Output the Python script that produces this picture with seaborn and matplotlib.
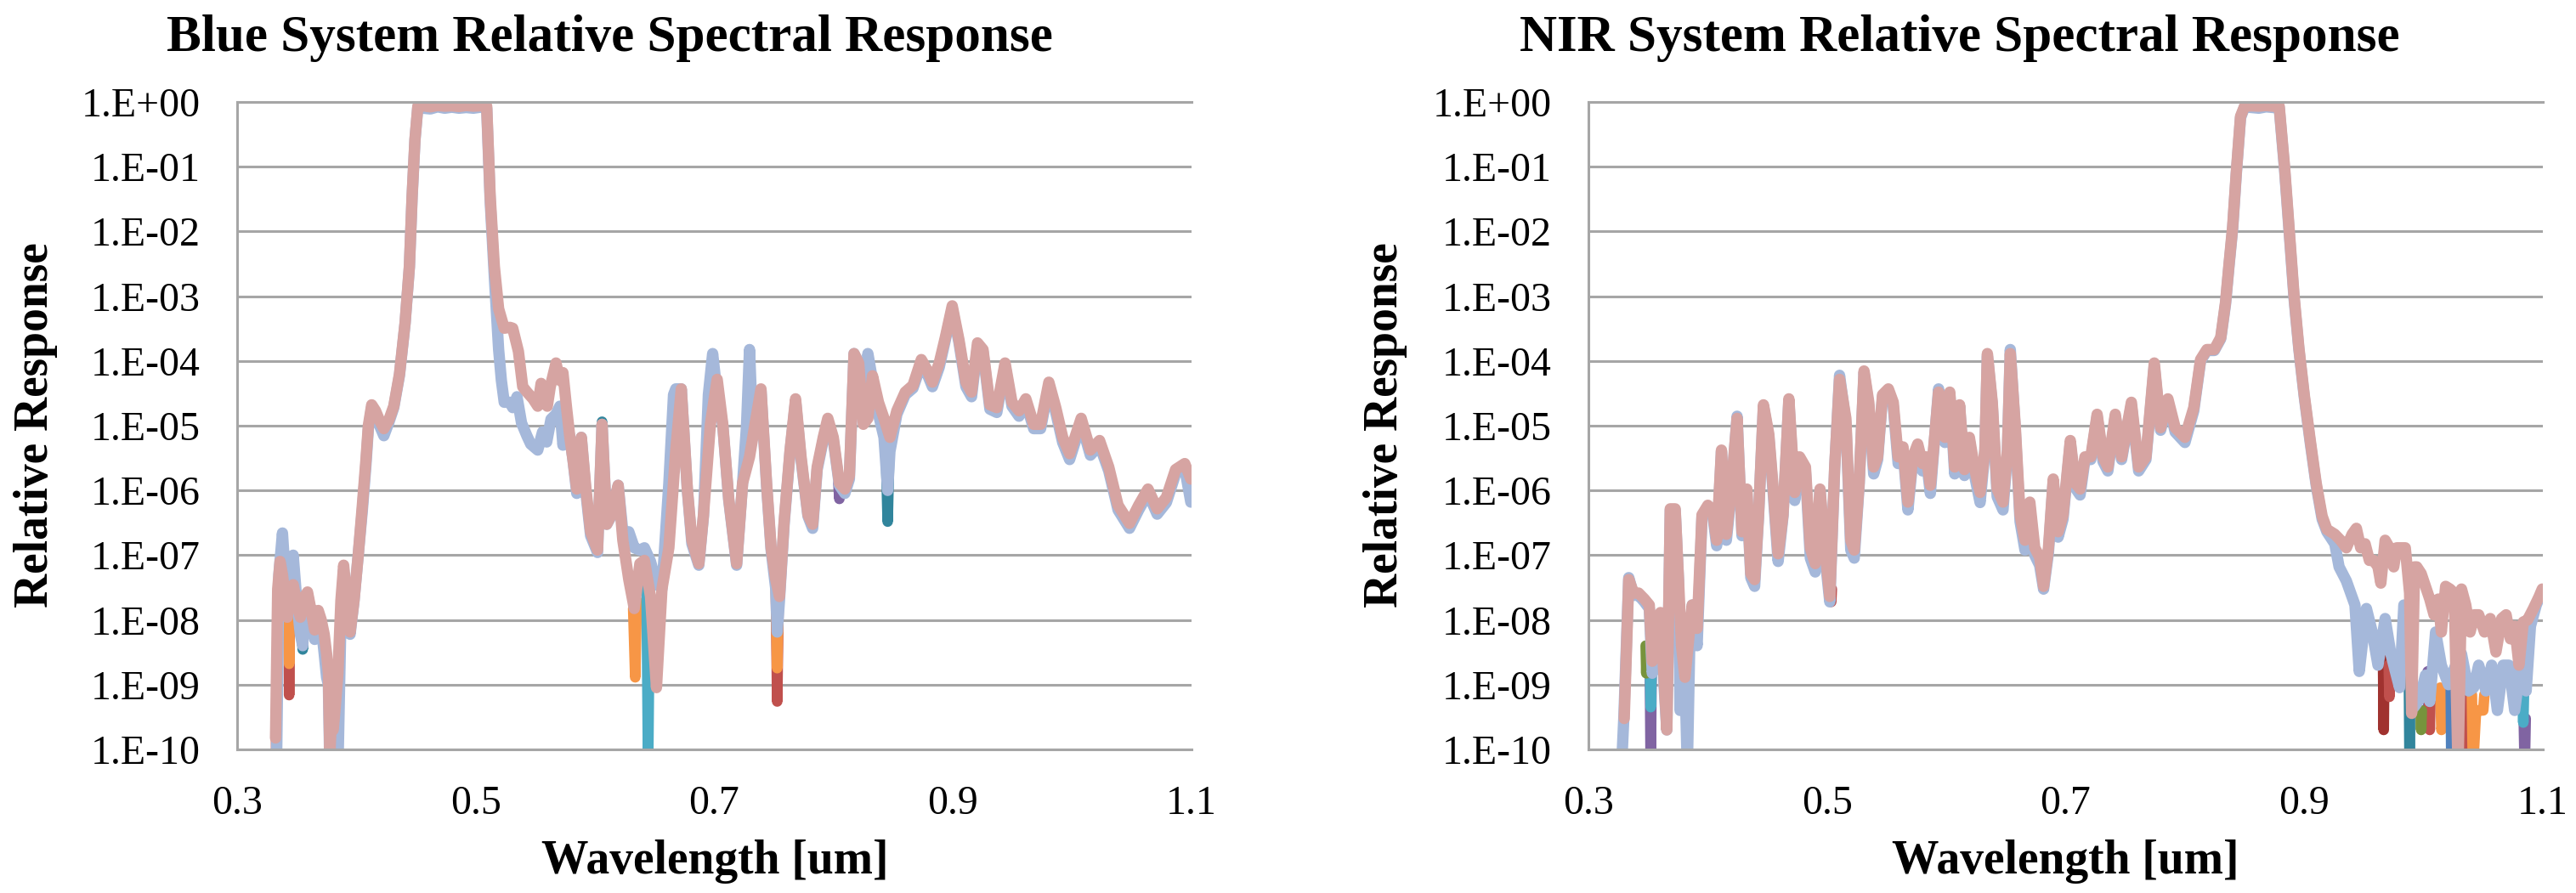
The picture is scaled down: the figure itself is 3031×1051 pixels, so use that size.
import numpy as np
import pandas as pd
import matplotlib
matplotlib.use("Agg")
import matplotlib.pyplot as plt
from matplotlib.ticker import NullLocator, FixedLocator, FixedFormatter
import seaborn as sns

sns.set_theme(style="white")
plt.rcParams['font.family'] = ['Liberation Serif', 'DejaVu Serif']

# ---------------- data ----------------
ytick_vals = [1e0, 1e-1, 1e-2, 1e-3, 1e-4, 1e-5, 1e-6, 1e-7, 1e-8, 1e-9, 1e-10]
ytick_labels = ["1.E+00", "1.E-01", "1.E-02", "1.E-03", "1.E-04", "1.E-05",
                "1.E-06", "1.E-07", "1.E-08", "1.E-09", "1.E-10"]
xtick_vals = [0.3, 0.5, 0.7, 0.9, 1.1]
xtick_labels = ["0.3", "0.5", "0.7", "0.9", "1.1"]

# Blue system - top (pink) series
blue_pink_wl = [0.3322, 0.3340, 0.3360, 0.3380, 0.3400, 0.3420, 0.3440, 0.3470, 0.3500, 0.3530,
                0.3560, 0.3590, 0.3620, 0.3650, 0.3680, 0.3705, 0.3730, 0.3750, 0.3765, 0.3777,
                0.3790, 0.3805, 0.3820, 0.3845, 0.3870, 0.3893, 0.3915, 0.3947, 0.3980, 0.4015,
                0.4050, 0.4080, 0.4100, 0.4128, 0.4160, 0.4194, 0.4230, 0.4270, 0.4313, 0.4361,
                0.4408, 0.4444, 0.4467, 0.4491, 0.4515, 0.4560, 0.4620, 0.4680, 0.4740, 0.4800,
                0.4860, 0.4920, 0.4980, 0.5040, 0.5092, 0.5121, 0.5156, 0.5192, 0.5239, 0.5287,
                0.5310, 0.5358, 0.5394, 0.5430, 0.5480, 0.5520, 0.5548, 0.5577, 0.5600, 0.5625,
                0.5673, 0.5705, 0.5731, 0.5760, 0.5789, 0.5815, 0.5847, 0.5885, 0.5924, 0.5963,
                0.6021, 0.6059, 0.6098, 0.6136, 0.6194, 0.6233, 0.6283, 0.6329, 0.6376, 0.6414,
                0.6465, 0.6515, 0.6561, 0.6619, 0.6677, 0.6723, 0.6774, 0.6812, 0.6870, 0.6909,
                0.6967, 0.7024, 0.7071, 0.7121, 0.7187, 0.7237, 0.7295, 0.7341, 0.7391, 0.7438,
                0.7476, 0.7515, 0.7546, 0.7585, 0.7635, 0.7681, 0.7727, 0.7785, 0.7824, 0.7862,
                0.7913, 0.7951, 0.7997, 0.8048, 0.8094, 0.8132, 0.8171, 0.8210, 0.8249, 0.8287,
                0.8326, 0.8376, 0.8422, 0.8472, 0.8530, 0.8600, 0.8665, 0.8735, 0.8781, 0.8828,
                0.8885, 0.8936, 0.8994, 0.9051, 0.9109, 0.9156, 0.9206, 0.9252, 0.9310, 0.9368,
                0.9437, 0.9495, 0.9554, 0.9611, 0.9677, 0.9735, 0.9804, 0.9862, 0.9920, 0.9978,
                1.0075, 1.0152, 1.0229, 1.0306, 1.0384, 1.0480, 1.0557, 1.0635, 1.0712, 1.0789,
                1.0866, 1.0943, 1.0994]
blue_pink_resp = [1.5e-10, 3e-8, 8e-8, 5e-8, 2.5e-8, 1.1e-8, 2e-8, 3.5e-8, 1.8e-8, 1.1e-8,
                  2.2e-8, 2.7e-8, 1.4e-8, 7e-9, 1.4e-8, 1e-8, 6e-9, 3e-9, 1.5e-9, 8e-11,
                  3e-10, 2e-10, 4e-10, 1.5e-9, 2e-8, 7e-8, 2.5e-8, 6.5e-9, 2e-8, 1e-7,
                  6e-7, 3e-6, 1e-5, 2.1e-5, 1.7e-5, 1.2e-5, 9e-6, 1.2e-5, 2e-5, 6.3e-5,
                  3.9e-4, 2.9e-3, 3.6e-2, 0.27, 0.86, 0.87, 0.84, 0.88, 0.86, 0.87,
                  0.85, 0.88, 0.86, 0.87, 0.86, 3.6e-2, 2.9e-3, 6.4e-4, 3.2e-4, 3.3e-4,
                  3.2e-4, 1.4e-4, 4e-5, 3.3e-5, 2.6e-5, 2e-5, 4.5e-5, 3.3e-5, 2e-5, 4e-5,
                  9.3e-5, 5e-5, 6.6e-5, 2e-5, 6.6e-6, 3e-6, 1.05e-6, 6.6e-6, 1.05e-6, 2.3e-7,
                  1.2e-7, 1.05e-5, 3e-7, 4.2e-7, 1.2e-6, 1.7e-7, 4.2e-8, 1.5e-8, 7.4e-8, 8.3e-8,
                  2.3e-8, 9e-10, 3e-8, 1.3e-7, 4.2e-6, 3.7e-5, 1.05e-6, 1.7e-7, 7.4e-8, 4.2e-7,
                  1.05e-5, 5.2e-5, 1.05e-5, 7.4e-7, 7.4e-8, 1.3e-6, 3.3e-6, 1.05e-5, 3.7e-5, 1.3e-6,
                  1.3e-7, 4.2e-8, 2.3e-8, 3.3e-7, 4.2e-6, 2.6e-5, 3.3e-6, 4.2e-7, 3e-7, 2.3e-6,
                  6.6e-6, 1.3e-5, 6.6e-6, 1.3e-6, 1.05e-6, 1.7e-6, 1.3e-4, 9.3e-5, 1.05e-5, 1.3e-5,
                  5.9e-5, 2.3e-5, 1.3e-5, 6.6e-6, 1.7e-5, 3.3e-5, 4.2e-5, 1.05e-4, 7.4e-5, 4.7e-5,
                  9.3e-5, 2.3e-4, 7.1e-4, 2.1e-4, 4.7e-5, 3.3e-5, 1.9e-4, 1.5e-4, 2.1e-5, 1.9e-5,
                  9.3e-5, 2.3e-5, 1.7e-5, 2.6e-5, 1.05e-5, 1.05e-5, 4.7e-5, 1.9e-5, 6.6e-6, 3.7e-6,
                  1.3e-5, 4.2e-6, 5.9e-6, 2.3e-6, 5.9e-7, 3.1e-7, 5.9e-7, 1.05e-6, 5.2e-7, 7.8e-7,
                  2.1e-6, 2.6e-6, 1.5e-6]

# Blue system - light blue series
blue_lb_wl = [0.3330, 0.3350, 0.3380, 0.3400, 0.3420, 0.3440, 0.3470, 0.3500, 0.3530, 0.3550,
              0.3570, 0.3590, 0.3620, 0.3650, 0.3680, 0.3705, 0.3730, 0.3750, 0.3765, 0.3777,
              0.3790, 0.3805, 0.3820, 0.3845, 0.3870, 0.3893, 0.3915, 0.3947, 0.3980, 0.4015,
              0.4050, 0.4080, 0.4100, 0.4128, 0.4160, 0.4194, 0.4230, 0.4270, 0.4313, 0.4361,
              0.4408, 0.4444, 0.4467, 0.4491, 0.4515, 0.4560, 0.4620, 0.4680, 0.4740, 0.4800,
              0.4860, 0.4920, 0.4980, 0.5040, 0.5092, 0.5121, 0.5156, 0.5192, 0.5215, 0.5239,
              0.5287, 0.5310, 0.5346, 0.5384, 0.5430, 0.5461, 0.5520, 0.5560, 0.5595, 0.5631,
              0.5673, 0.5705, 0.5731, 0.5760, 0.5789, 0.5815, 0.5847, 0.5885, 0.5924, 0.5963,
              0.6021, 0.6059, 0.6098, 0.6136, 0.6194, 0.6233, 0.6283, 0.6329, 0.6376, 0.6414,
              0.6465, 0.6515, 0.6561, 0.6619, 0.6658, 0.6677, 0.6723, 0.6774, 0.6812, 0.6870,
              0.6909, 0.6950, 0.6986, 0.7024, 0.7071, 0.7121, 0.7187, 0.7237, 0.7270, 0.7295,
              0.7320, 0.7341, 0.7391, 0.7438, 0.7476, 0.7515, 0.7527, 0.7546, 0.7585, 0.7635,
              0.7681, 0.7727, 0.7785, 0.7824, 0.7862, 0.7913, 0.7951, 0.7997, 0.8048, 0.8094,
              0.8132, 0.8171, 0.8210, 0.8249, 0.8287, 0.8326, 0.8376, 0.8422, 0.8453, 0.8472,
              0.8530, 0.8600, 0.8665, 0.8735, 0.8781, 0.8828, 0.8885, 0.8936, 0.8994, 0.9051,
              0.9109, 0.9156, 0.9206, 0.9252, 0.9310, 0.9368, 0.9437, 0.9495, 0.9554, 0.9611,
              0.9677, 0.9735, 0.9804, 0.9862, 0.9920, 0.9978, 1.0075, 1.0152, 1.0229, 1.0306,
              1.0384, 1.0480, 1.0557, 1.0635, 1.0712, 1.0789, 1.0866, 1.0943, 1.0994]
blue_lb_resp = [5e-11, 5e-8, 2.2e-7, 6e-8, 1.3e-8, 2.5e-8, 1e-7, 2e-8, 6e-9, 4e-9,
                2e-8, 2.5e-8, 1.2e-8, 5e-9, 1.2e-8, 8e-9, 3e-9, 1.3e-9, 1e-9, 5e-11,
                2e-10, 1e-10, 2e-10, 5e-11, 1e-8, 6e-8, 2e-8, 6e-9, 2e-8, 1e-7,
                5e-7, 2.5e-6, 9e-6, 1.9e-5, 1.5e-5, 1e-5, 7e-6, 1.1e-5, 1.9e-5, 6e-5,
                3.8e-4, 2.8e-3, 3.4e-2, 0.26, 0.84, 0.8, 0.78, 0.84, 0.8, 0.83,
                0.8, 0.82, 0.8, 0.83, 0.8, 3e-2, 2e-3, 1.5e-4, 5e-5, 2.3e-5,
                2.3e-5, 1.9e-5, 2.8e-5, 1.1e-5, 6.9e-6, 5.2e-6, 4.2e-6, 8e-6, 5.6e-6, 1.26e-5,
                1.5e-5, 2e-5, 5e-6, 1.2e-5, 6.6e-6, 3e-6, 9e-7, 6.6e-6, 9e-7, 2e-7,
                1.1e-7, 1.05e-5, 3e-7, 4e-7, 1.2e-6, 2.3e-7, 2.3e-7, 1.3e-7, 1.2e-7, 1.3e-7,
                8e-8, 3.7e-8, 3e-8, 1.3e-6, 3e-5, 3.7e-5, 3.7e-5, 1e-6, 1.5e-7, 7e-8,
                4e-7, 3e-5, 1.3e-4, 3e-5, 1e-5, 7e-7, 7e-8, 1.3e-6, 1e-5, 1.5e-4,
                1e-5, 1e-5, 3.5e-5, 1.2e-6, 1.2e-7, 3e-8, 6.5e-9, 2e-8, 3e-7, 4e-6,
                2.4e-5, 3e-6, 4e-7, 2.6e-7, 2.1e-6, 6e-6, 1.2e-5, 6e-6, 1.2e-6, 9e-7,
                1.5e-6, 1.3e-4, 9.3e-5, 1.5e-5, 1.3e-4, 5e-5, 1.5e-5, 6.6e-6, 1e-6, 4e-6,
                1.5e-5, 3e-5, 3.8e-5, 9e-5, 6.5e-5, 4e-5, 8e-5, 2.1e-4, 6.5e-4, 1.9e-4,
                4e-5, 2.8e-5, 1.7e-4, 1.4e-4, 1.8e-5, 1.6e-5, 8.5e-5, 2e-5, 1.4e-5, 2.3e-5,
                9e-6, 9e-6, 4.2e-5, 1.6e-5, 5.5e-6, 3e-6, 1.1e-5, 3.5e-6, 5e-6, 2e-6,
                5e-7, 2.6e-7, 5e-7, 9e-7, 4.3e-7, 6.5e-7, 1.8e-6, 2.2e-6, 6.6e-7]

# NIR system - top (pink) series
nir_pink_wl = [0.3300, 0.3338, 0.3379, 0.3420, 0.3469, 0.3510, 0.3535, 0.3567, 0.3604, 0.3633,
               0.3657, 0.3686, 0.3727, 0.3755, 0.3780, 0.3809, 0.3840, 0.3870, 0.3911, 0.3952,
               0.4001, 0.4042, 0.4075, 0.4115, 0.4156, 0.4197, 0.4246, 0.4287, 0.4328, 0.4361,
               0.4393, 0.4426, 0.4467, 0.4512, 0.4549, 0.4590, 0.4631, 0.4680, 0.4729, 0.4770,
               0.4819, 0.4860, 0.4901, 0.4941, 0.4982, 0.5023, 0.5064, 0.5105, 0.5158, 0.5199,
               0.5228, 0.5269, 0.5310, 0.5350, 0.5391, 0.5424, 0.5465, 0.5514, 0.5555, 0.5596,
               0.5637, 0.5678, 0.5719, 0.5760, 0.5800, 0.5833, 0.5866, 0.5906, 0.5935, 0.5988,
               0.6029, 0.6070, 0.6111, 0.6152, 0.6193, 0.6234, 0.6283, 0.6323, 0.6344, 0.6385,
               0.6426, 0.6475, 0.6512, 0.6536, 0.6577, 0.6618, 0.6659, 0.6700, 0.6741, 0.6782,
               0.6815, 0.6856, 0.6896, 0.6937, 0.6978, 0.7039, 0.7080, 0.7121, 0.7162, 0.7211,
               0.7264, 0.7313, 0.7354, 0.7416, 0.7469, 0.7551, 0.7612, 0.7673, 0.7743, 0.7796,
               0.7857, 0.7918, 0.8000, 0.8074, 0.8131, 0.8184, 0.8246, 0.8300, 0.8340, 0.8370,
               0.8400, 0.8430, 0.8466, 0.8500, 0.8560, 0.8620, 0.8680, 0.8740, 0.8790, 0.8835,
               0.8875, 0.8915, 0.8955, 0.9000, 0.9050, 0.9100, 0.9150, 0.9190, 0.9256, 0.9304,
               0.9353, 0.9401, 0.9437, 0.9473, 0.9510, 0.9546, 0.9582, 0.9618, 0.9642, 0.9678,
               0.9714, 0.9750, 0.9775, 0.9811, 0.9847, 0.9883, 0.9900, 0.9925, 0.9943, 0.9980,
               1.0016, 1.0052, 1.0088, 1.0124, 1.0149, 1.0185, 1.0221, 1.0257, 1.0289, 1.0318,
               1.0354, 1.0390, 1.0426, 1.0462, 1.0511, 1.0559, 1.0607, 1.0655, 1.0692, 1.0728,
               1.0764, 1.0800, 1.0836, 1.0872, 1.0921, 1.0969, 1.0995]
nir_pink_resp = [3e-10, 4.2e-8, 2.6e-8, 2.6e-8, 2.1e-8, 1.7e-8, 2.3e-9, 4e-9, 1.3e-8, 1.3e-9,
                 2e-10, 5.2e-7, 5.2e-7, 4.2e-8, 4e-9, 1.3e-9, 5e-9, 1.7e-8, 7.4e-9, 4.2e-7,
                 5.9e-7, 4.7e-7, 1.7e-7, 4.2e-6, 2.1e-7, 1.05e-6, 1.3e-5, 2.3e-7, 1.05e-6, 5.2e-8,
                 4.2e-8, 4.2e-7, 2.1e-5, 7.4e-6, 1.05e-6, 1.05e-7, 4.2e-7, 2.6e-5, 9.3e-7, 3.3e-6,
                 2.3e-6, 1.3e-7, 7.4e-8, 1.05e-6, 1.3e-7, 2.3e-8, 2.3e-6, 5.2e-5, 1.3e-5, 1.7e-7,
                 1.2e-7, 1.3e-6, 7e-5, 2.3e-5, 2.3e-6, 3.3e-6, 3e-5, 3.7e-5, 2.3e-5, 3.3e-6,
                 4.7e-6, 6.6e-7, 3.3e-6, 5.2e-6, 2.6e-6, 3.3e-6, 1.2e-6, 8.3e-6, 3.3e-5, 6.6e-6,
                 3.3e-5, 2.3e-6, 2.1e-5, 2.1e-6, 6.6e-6, 2.3e-6, 9.3e-7, 4.2e-6, 1.3e-4, 2.3e-5,
                 1.05e-6, 6.6e-7, 4.2e-6, 1.3e-4, 1.05e-5, 4.2e-7, 1.7e-7, 6.6e-7, 1.3e-7, 9.3e-8,
                 3.3e-8, 1.3e-7, 1.5e-6, 2.3e-7, 4.2e-7, 5.9e-6, 1.3e-6, 1.05e-6, 3.3e-6, 3.3e-6,
                 1.5e-5, 3.3e-6, 2.3e-6, 1.5e-5, 3.3e-6, 2.3e-5, 2.3e-6, 3.3e-6, 9.3e-5, 9.3e-6,
                 2.6e-5, 9.3e-6, 6.6e-6, 1.9e-5, 1.05e-4, 1.5e-4, 1.5e-4, 2.3e-4, 8e-4, 3.2e-3,
                 1.2e-2, 8e-2, 0.6, 0.86, 0.87, 0.86, 0.88, 0.86, 0.86, 0.1,
                 1e-2, 1e-3, 1.6e-4, 3e-5, 6e-6, 1.3e-6, 4e-7, 2.5e-7, 2.1e-7, 1.7e-7,
                 1.3e-7, 2.1e-7, 2.6e-7, 1.3e-7, 1.5e-7, 8.3e-8, 8.3e-8, 6.6e-8, 3.7e-8, 1.7e-7,
                 1.3e-7, 6.6e-8, 1.3e-7, 1.3e-7, 1.3e-7, 2.6e-8, 3.6e-10, 6.6e-8, 6.6e-8, 5.2e-8,
                 3.3e-8, 2.1e-8, 1.2e-8, 2.1e-8, 6.5e-9, 3.3e-8, 3e-8, 2.6e-8, 5e-11, 3e-8,
                 1.7e-8, 6.5e-9, 1.2e-8, 1.2e-8, 6.5e-9, 1.05e-8, 3.2e-9, 1.05e-8, 1.2e-8, 5.1e-9,
                 8e-9, 2e-9, 9.3e-9, 1e-8, 1.5e-8, 2.3e-8, 3e-8]

# NIR system - light blue series
nir_lb_wl = [0.3277, 0.3297, 0.3338, 0.3379, 0.3420, 0.3469, 0.3510, 0.3535, 0.3567, 0.3604,
             0.3633, 0.3657, 0.3686, 0.3727, 0.3755, 0.3768, 0.3790, 0.3809, 0.3829, 0.3850,
             0.3870, 0.3911, 0.3952, 0.4001, 0.4042, 0.4075, 0.4115, 0.4156, 0.4197, 0.4246,
             0.4287, 0.4328, 0.4361, 0.4393, 0.4426, 0.4467, 0.4512, 0.4549, 0.4590, 0.4631,
             0.4680, 0.4729, 0.4770, 0.4819, 0.4860, 0.4901, 0.4941, 0.4982, 0.5023, 0.5064,
             0.5105, 0.5158, 0.5199, 0.5228, 0.5269, 0.5310, 0.5350, 0.5391, 0.5424, 0.5465,
             0.5514, 0.5555, 0.5596, 0.5637, 0.5678, 0.5719, 0.5760, 0.5800, 0.5833, 0.5866,
             0.5906, 0.5935, 0.5988, 0.6029, 0.6070, 0.6111, 0.6152, 0.6193, 0.6234, 0.6283,
             0.6323, 0.6344, 0.6385, 0.6426, 0.6475, 0.6512, 0.6536, 0.6577, 0.6618, 0.6659,
             0.6700, 0.6741, 0.6782, 0.6815, 0.6856, 0.6896, 0.6937, 0.6978, 0.7039, 0.7080,
             0.7121, 0.7162, 0.7211, 0.7264, 0.7313, 0.7354, 0.7416, 0.7469, 0.7551, 0.7612,
             0.7673, 0.7743, 0.7796, 0.7857, 0.7918, 0.8000, 0.8074, 0.8131, 0.8184, 0.8246,
             0.8300, 0.8340, 0.8370, 0.8400, 0.8430, 0.8466, 0.8500, 0.8560, 0.8620, 0.8680,
             0.8740, 0.8790, 0.8835, 0.8875, 0.8915, 0.8955, 0.9000, 0.9050, 0.9100, 0.9150,
             0.9190, 0.9256, 0.9292, 0.9353, 0.9425, 0.9461, 0.9521, 0.9570, 0.9618, 0.9678,
             0.9726, 0.9799, 0.9835, 0.9871, 0.9920, 0.9968, 1.0016, 1.0052, 1.0101, 1.0149,
             1.0209, 1.0269, 1.0318, 1.0378, 1.0420, 1.0462, 1.0523, 1.0571, 1.0619, 1.0667,
             1.0715, 1.0764, 1.0812, 1.0860, 1.0896, 1.0945, 1.0993]
nir_lb_resp = [5e-11, 3.2e-10, 4.5e-8, 2.4e-8, 2.4e-8, 1.9e-8, 1.5e-8, 1.5e-9, 3e-9, 1.1e-8,
               1e-9, 2e-10, 5e-7, 5e-7, 4e-8, 4e-10, 4e-9, 1.3e-9, 5e-11, 5e-9,
               1.7e-8, 4e-9, 4e-7, 5.5e-7, 4.2e-7, 1.4e-7, 4e-6, 1.7e-7, 9e-7, 1.4e-5,
               2e-7, 9e-7, 4.5e-8, 3.3e-8, 4e-7, 2e-5, 6.6e-6, 9e-7, 8e-8, 4e-7,
               2.4e-5, 7e-7, 3e-6, 2e-6, 9e-8, 5.5e-8, 1e-6, 1e-7, 1.9e-8, 2.2e-6,
               6e-5, 1.1e-5, 1.2e-7, 9e-8, 1.2e-6, 6.6e-5, 2e-5, 1.8e-6, 3e-6, 2.8e-5,
               3.5e-5, 2e-5, 2.6e-6, 4.2e-6, 5e-7, 3e-6, 4.8e-6, 2e-6, 3e-6, 9e-7,
               8e-6, 3.7e-5, 5.5e-6, 3.1e-5, 1.8e-6, 2e-5, 1.7e-6, 6e-6, 1.8e-6, 6.5e-7,
               4e-6, 1.2e-4, 2.1e-5, 8e-7, 5e-7, 4e-6, 1.5e-4, 9e-6, 3.3e-7, 1.2e-7,
               5.5e-7, 1e-7, 7e-8, 3e-8, 1.1e-7, 1.4e-6, 1.9e-7, 3.6e-7, 5.5e-6, 1.1e-6,
               8.5e-7, 3e-6, 3e-6, 1.4e-5, 2.8e-6, 2e-6, 1.4e-5, 3e-6, 2.1e-5, 2e-6,
               3e-6, 8.5e-5, 8.5e-6, 2.4e-5, 8e-6, 5.5e-6, 1.7e-5, 1e-4, 1.45e-4, 1.45e-4,
               2.2e-4, 7.5e-4, 3e-3, 1.1e-2, 7.5e-2, 0.57, 0.84, 0.82, 0.8, 0.84,
               0.82, 0.82, 0.09, 9e-3, 9e-4, 1.5e-4, 2.8e-5, 5.5e-6, 1.2e-6, 3.6e-7,
               2.3e-7, 1.5e-7, 6.6e-8, 4e-8, 1.7e-8, 1.6e-9, 1.5e-8, 6.5e-9, 2e-9, 1.05e-8,
               3e-9, 9e-10, 1.7e-8, 6.5e-9, 4.5e-10, 6e-10, 1.4e-9, 5.5e-10, 6.5e-9, 2e-9,
               1e-9, 2e-9, 3e-9, 8e-10, 9e-10, 2e-9, 8e-10, 2e-9, 4e-10, 2e-9,
               2e-9, 4e-10, 2e-9, 8e-10, 8e-9, 1.7e-8, 2.8e-8]

# Other (mostly hidden) series: short stretches where they show below the top two
blue_red_segments = [([0.3326, 0.3328], [2.5e-10, 5e-11]),
                     ([0.3430, 0.3436, 0.3442], [1.8e-8, 6.9e-10, 1.8e-8]),
                     ([0.7515, 0.7527, 0.7540], [4e-8, 5.5e-10, 3e-8])]
blue_orange_segments = [([0.3430, 0.3436, 0.3442], [1.8e-8, 2.1e-9, 1.8e-8]),
                        ([0.6320, 0.6337, 0.6350], [1.5e-8, 1.3e-9, 2e-8]),
                        ([0.7515, 0.7527, 0.7540], [4e-8, 1.8e-9, 3e-8])]
blue_teal_segments = [([0.3540, 0.3550, 0.3560], [1e-8, 3.5e-9, 1e-8]),
                      ([0.6050, 0.6059, 0.6068], [1e-6, 1.15e-5, 1e-6]),
                      ([0.8440, 0.8453, 0.8465], [3e-6, 3.3e-7, 3e-6])]
blue_cyan_segments = [([0.6430, 0.6445, 0.6460], [8e-8, 5e-11, 5e-8])]
blue_purple_segments = [([0.8040, 0.8048, 0.8056], [1.3e-6, 7.4e-7, 1.3e-6])]

nir_purple_segments = [([0.3515, 0.3522, 0.3530], [2e-9, 5e-11, 2e-9]),
                       ([0.6808, 0.6815, 0.6822], [5e-8, 3e-8, 5e-8]),
                       ([1.0035, 1.0040, 1.0045], [1.6e-9, 4e-10, 1.6e-9]),
                       ([1.0840, 1.0848, 1.0856], [3e-10, 5e-11, 3e-10])]
nir_cyan_segments = [([0.3515, 0.3522, 0.3530], [2e-9, 4.5e-10, 2e-9]),
                     ([1.0830, 1.0836, 1.0842], [8e-10, 2.6e-10, 8e-10])]
nir_darkred_segments = [([0.9660, 0.9666, 0.9672], [3e-9, 2e-10, 3e-9])]
nir_red_segments = [([0.5030, 0.5035, 0.5040], [3e-8, 1.9e-8, 3e-8]),
                    ([0.9708, 0.9714, 0.9720], [2e-9, 6.5e-10, 2e-9]),
                    ([1.0045, 1.0052, 1.0060], [8e-10, 2e-10, 8e-10]),
                    ([1.0360, 1.0366, 1.0372], [1e-9, 5e-11, 1e-9])]
nir_teal_segments = [([0.6930, 0.6937, 0.6944], [3e-7, 2e-7, 3e-7]),
                     ([0.9877, 0.9883, 0.9889], [1.5e-9, 5e-11, 1.5e-9])]
nir_green_segments = [([0.3480, 0.3485, 0.3490], [4e-9, 1.5e-9, 4e-9]),
                      ([0.9975, 0.9980, 0.9985], [4e-10, 2e-10, 4e-10])]
nir_orange_segments = [([1.0140, 1.0150, 1.0165, 1.0175], [9e-10, 2e-10, 3e-10, 9e-10]),
                       ([1.0405, 1.0414, 1.0440, 1.0500, 1.0510], [7e-10, 5e-11, 4e-10, 4e-10, 7e-10])]
nir_blue_segments = [([1.0228, 1.0233, 1.0238], [1e-9, 5e-11, 1e-9])]

# ---------------- styling ----------------
PINK = '#D6A4A2'
LBLUE = '#A5B8DA'
C_RED = '#C0504D'
C_DKRED = '#A0322F'
C_ORANGE = '#F79646'
C_TEAL = '#31859C'
C_CYAN = '#4BACC6'
C_PURPLE = '#8064A2'
C_GREEN = '#77933C'
C_BLUE = '#4F81BD'
GRID = '#A6A6A6'
LW_TOP = 9.6
LW_HIDDEN = 9.0

W, H = 3031, 1051
fig = plt.figure(figsize=(W / 100, H / 100), dpi=100)
fig.patch.set_facecolor('white')


def px_axes(x0, y0, x1, y1):
    return fig.add_axes([x0 / W, 1 - y1 / H, (x1 - x0) / W, (y1 - y0) / H])


def seg_frame(segments, name):
    rows = []
    for i, (wl, rs) in enumerate(segments):
        for w, r in zip(wl, rs):
            rows.append((w, r, name, f"{name}_{i}"))
    return pd.DataFrame(rows, columns=['wavelength', 'response', 'series', 'segment'])


def draw(ax, df, color, lw):
    sns.lineplot(data=df, x='wavelength', y='response', units='segment', estimator=None,
                 sort=False, color=color, linewidth=lw, ax=ax, legend=False,
                 solid_capstyle='round', solid_joinstyle='round')


def style(ax):
    ax.set_yscale('log')
    ax.set_ylim(1e-10, 1)
    ax.set_xlim(0.3, 1.1)
    ax.set_facecolor('white')


panels = [
    dict(box=(279, 120, 1402, 882),
         title="Blue System Relative Spectral Response", tx=717, ylx=42, xlx=841,
         hidden=[(blue_red_segments, C_RED), (blue_orange_segments, C_ORANGE),
                 (blue_teal_segments, C_TEAL), (blue_cyan_segments, C_CYAN),
                 (blue_purple_segments, C_PURPLE)],
         lb=(blue_lb_wl, blue_lb_resp), pk=(blue_pink_wl, blue_pink_resp)),
    dict(box=(1869, 120, 2992, 882),
         title="NIR System Relative Spectral Response", tx=2306, ylx=1630, xlx=2430,
         hidden=[(nir_purple_segments, C_PURPLE), (nir_cyan_segments, C_CYAN),
                 (nir_darkred_segments, C_DKRED), (nir_red_segments, C_RED),
                 (nir_teal_segments, C_TEAL), (nir_green_segments, C_GREEN),
                 (nir_orange_segments, C_ORANGE), (nir_blue_segments, C_BLUE)],
         lb=(nir_lb_wl, nir_lb_resp), pk=(nir_pink_wl, nir_pink_resp)),
]

for p in panels:
    ax = px_axes(*p['box'])
    style(ax)
    for segs, col in p['hidden']:
        draw(ax, seg_frame(segs, col), col, LW_HIDDEN)
    draw(ax, seg_frame([p['lb']], 'lb'), LBLUE, LW_TOP)
    draw(ax, seg_frame([p['pk']], 'pk'), PINK, LW_TOP)
    style(ax)

    ax.yaxis.set_major_locator(FixedLocator(ytick_vals))
    ax.yaxis.set_major_formatter(FixedFormatter(ytick_labels))
    ax.yaxis.set_minor_locator(NullLocator())
    ax.xaxis.set_major_locator(FixedLocator(xtick_vals))
    ax.xaxis.set_major_formatter(FixedFormatter(xtick_labels))
    ax.xaxis.set_minor_locator(NullLocator())
    ax.tick_params(axis='both', length=0, labelsize=34.5, labelcolor='black')
    ax.tick_params(axis='y', pad=31)
    ax.tick_params(axis='x', pad=30)
    ax.yaxis.grid(True, color=GRID, linewidth=2.2)
    ax.xaxis.grid(False)
    ax.set_axisbelow(True)
    for side in ('left', 'top', 'bottom'):
        ax.spines[side].set_visible(True)
        ax.spines[side].set_color(GRID)
        ax.spines[side].set_linewidth(2.2)
    ax.spines['right'].set_visible(False)
    ax.set_xlabel('')
    ax.set_ylabel('')

    fig.text(p['tx'] / W, 1 - 60 / H, p['title'], ha='center', va='baseline',
             fontsize=44, fontweight='bold', color='black')
    fig.text(p['xlx'] / W, 1 - 1028 / H, "Wavelength [um]", ha='center', va='baseline',
             fontsize=40, fontweight='bold', color='black')
    fig.text(p['ylx'] / W, 1 - 500 / H, "Relative Response", ha='center', va='center',
             rotation=90, fontsize=40, fontweight='bold', color='black')

fig.savefig('out.png', dpi=100, facecolor='white')
